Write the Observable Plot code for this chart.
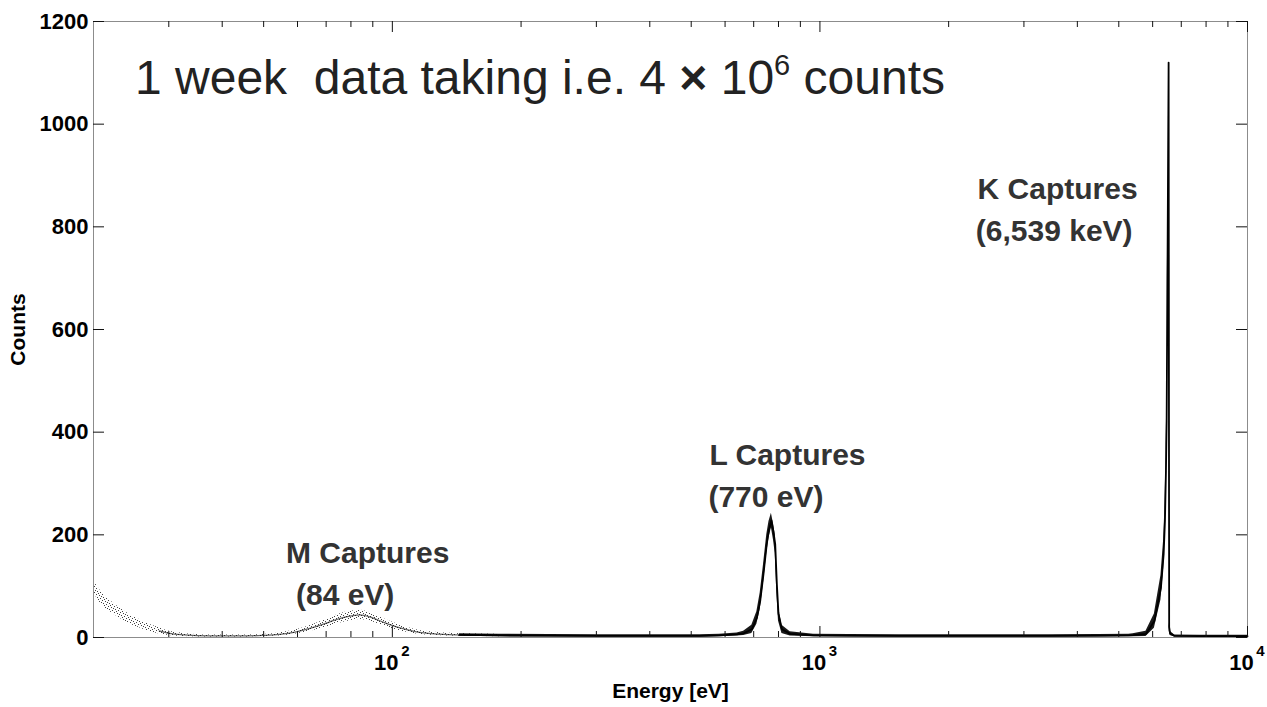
<!DOCTYPE html>
<html>
<head>
<meta charset="utf-8">
<script src="https://cdn.jsdelivr.net/npm/d3@7"></script>
<script src="https://cdn.jsdelivr.net/npm/@observablehq/plot@0.6"></script>
<style>
  html, body { margin: 0; padding: 0; background: #fff; }
  #chart svg { display: block; }
</style>
</head>
<body>
<div id="chart"></div>
<script>
// Electron-capture spectrum: bin energy (eV), typical counts per bin,
// and the half-width of the counting scatter around it.
const energy = [
  20.0, 20.4, 21.0, 21.8, 23.0, 24.3, 25.6, 27.0, 28.5, 30.1, 32.6, 37.3, 43.8,
  49.6, 54.4, 59.6, 65.0, 71.2, 75.2, 80.2, 84.0, 89.3, 95.8, 103.8, 113.8, 125.4,
  143.5, 178, 233, 305, 399, 523, 582, 640, 663, 693, 712, 725, 738, 751, 760,
  770, 779, 786, 793, 800, 815, 852, 966, 1172, 1532, 2003, 2620, 3426, 4482,
  5276, 5400, 5788, 6056, 6274, 6367, 6411, 6446, 6470, 6498, 6539, 6558, 6592,
  6755, 7727, 10000
];
const countMid = [
  100, 88, 74, 62, 48, 36, 27, 19, 13, 8, 5, 3, 3,
  4, 6, 11, 19, 30, 37, 42, 44, 39, 29, 19, 11, 7,
  5, 4, 3.5, 3, 3, 3, 4, 6, 8, 16, 38, 71, 124, 182, 210,
  228, 205, 182, 104, 46, 16, 7, 4, 3.5, 3, 3, 3, 3, 3.5,
  4, 4.5, 7, 32, 97, 163, 227, 325, 422, 700, 1120, 20, 8,
  3, 2.5, 2.5
];
const countSpread = [
  12, 12, 12, 11, 10, 9, 8, 7, 6, 4, 3, 2, 2,
  2, 3, 4, 6, 8, 9, 9, 9, 8, 7, 6, 4, 3,
  2.5, 2.5, 2.5, 2.5, 2.5, 2.5, 2.5, 3, 4, 8, 12, 16, 18, 18, 16,
  14, 16, 18, 18, 14, 8, 4, 2.5, 2.5, 2.5, 2.5, 2.5, 2.5, 2.5,
  2.5, 3, 5, 14, 24, 28, 28, 26, 24, 24, 0, 8, 4,
  2, 2, 2
];

// Axis ticks
const yTicks = [0, 200, 400, 600, 800, 1000, 1200];
const xDecades = [100, 1000, 10000];
const decadeExponents = ["2", "3", "4"];
const xMinorTicks = [30, 40, 50, 60, 70, 80, 90, 200, 300, 400, 500, 600, 700, 800, 900,
                     2000, 3000, 4000, 5000, 6000, 7000, 8000, 9000];

// Capture lines
const peakNames = ["M Captures", "L Captures", "K Captures"];
const peakEnergyLabels = ["(84 eV)", "(770 eV)", "(6,539 keV)"];
const peakEnergy = [84, 770, 6539];
const peakCount = [44, 228, 1120];

const spectrum = energy.map((e, i) => ({
  energy: e,
  mid: countMid[i],
  lo: Math.max(0, countMid[i] - countSpread[i]),
  hi: countMid[i] + countSpread[i]
}));
const sparse = spectrum.filter(d => d.energy <= 178);
const sparseCore = sparse.filter(d => d.energy >= 28.5);
const dense = spectrum.filter(d => d.energy >= 143.5);
const peaks = peakNames.map((name, i) => ({
  name, label: peakEnergyLabels[i], energy: peakEnergy[i], count: peakCount[i]
}));

const W = 1267, H = 707;
const mL = 93, mR = 20, mT = 21, mB = 70;
const frameW = W - mL - mR, frameH = H - mT - mB;
const font = "Liberation Sans, Arial, Helvetica, sans-serif";
const annColor = "#333";

const capLabel = (i, field, anchor, dx, dy) =>
  Plot.text([peaks[i]], {
    x: "energy", y: "count", text: field,
    textAnchor: anchor, lineAnchor: "bottom", dx, dy,
    fontSize: 30, fontWeight: "bold", fill: annColor
  });

const chart = Plot.plot({
  width: W, height: H,
  marginLeft: mL, marginRight: mR, marginTop: mT, marginBottom: mB,
  style: { fontFamily: font, background: "#fff", overflow: "visible" },
  x: { type: "log", domain: [20, 10000], axis: null },
  y: { domain: [0, 1200], axis: null },
  marks: [
    // sparse low-energy tail and M hump, stippled like scattered bins
    Plot.areaY(sparse, { x: "energy", y1: "lo", y2: "hi", fill: "url(#scatter)", curve: "monotone-x" }),
    Plot.line(sparseCore, { x: "energy", y: "mid", stroke: "#000", strokeOpacity: 0.6, strokeWidth: 1.3, curve: "monotone-x" }),
    // dense L and K lines
    Plot.areaY(dense, { x: "energy", y1: "lo", y2: "hi", fill: "#000", fillOpacity: 0.9 }),
    Plot.line(dense, { x: "energy", y: "mid", stroke: "#000", strokeWidth: 1.8 }),

    Plot.frame({ stroke: "#8c8c8c" }),

    // inward ticks, bottom and top
    Plot.ruleX(xDecades, { x: d => d, insetTop: frameH - 11, stroke: "#111" }),
    Plot.ruleX(xDecades, { x: d => d, insetBottom: frameH - 11, stroke: "#111" }),
    Plot.ruleX(xMinorTicks, { x: d => d, insetTop: frameH - 6, stroke: "#111" }),
    Plot.ruleX(xMinorTicks, { x: d => d, insetBottom: frameH - 6, stroke: "#111" }),
    // inward ticks, left and right
    Plot.ruleY(yTicks, { y: d => d, insetRight: frameW - 11, stroke: "#111" }),
    Plot.ruleY(yTicks, { y: d => d, insetLeft: frameW - 11, stroke: "#111" }),

    // y tick labels
    Plot.text(yTicks, {
      y: d => d, text: d => String(d), frameAnchor: "left", textAnchor: "end",
      dx: -5, fontSize: 22, fontWeight: "bold", fill: "#000"
    }),
    // x tick labels 10^n
    Plot.text(xDecades, {
      x: d => d, text: () => "10", frameAnchor: "bottom", lineAnchor: "bottom", textAnchor: "middle",
      dx: -6, dy: 32, fontSize: 22, fontWeight: "bold", fill: "#000"
    }),
    Plot.text(xDecades, {
      x: d => d, text: (d, i) => decadeExponents[i], frameAnchor: "bottom", lineAnchor: "bottom", textAnchor: "middle",
      dx: 13, dy: 18, fontSize: 15, fontWeight: "bold", fill: "#000"
    }),

    // axis titles
    Plot.text(["Energy [eV]"], {
      frameAnchor: "bottom", lineAnchor: "bottom", textAnchor: "middle", dy: 60,
      fontSize: 21, fontWeight: "bold", fill: "#000"
    }),
    Plot.text(["Counts"], {
      frameAnchor: "left", textAnchor: "middle", rotate: -90, dx: -75,
      fontSize: 21, fontWeight: "bold", fill: "#000"
    }),

    // capture line annotations
    capLabel(0, "name", "start", -74, -52),
    capLabel(0, "label", "start", -64, -10),
    capLabel(1, "name", "start", -62, -55),
    capLabel(1, "label", "start", -63, -13),
    capLabel(2, "name", "end", -31, 136),
    capLabel(2, "label", "end", -36, 178)
  ]
});

const svg = d3.select(chart);

// stipple used for the sparsely populated bins
const pat = svg.insert("defs", ":first-child").append("pattern")
  .attr("id", "scatter").attr("patternUnits", "userSpaceOnUse")
  .attr("width", 6).attr("height", 6);
[[0, 0], [3, 1], [1, 3], [4, 4], [5, 2], [2, 5]].forEach(([px, py]) =>
  pat.append("rect").attr("x", px).attr("y", py).attr("width", 1).attr("height", 1)
    .attr("fill", "#000").attr("fill-opacity", 0.75));

// headline with superscript exponent
const head = svg.append("text")
  .attr("x", 135).attr("y", 94)
  .attr("text-anchor", "start")
  .attr("font-family", font).attr("font-size", 48)
  .attr("fill", "#222")
  .style("white-space", "pre");
head.append("tspan").text("1 week  data taking i.e. 4 ");
head.append("tspan").attr("font-weight", "bold").text("\u00d7");
head.append("tspan").text(" 10");
head.append("tspan").attr("font-size", 29).attr("dy", -19).text("6");
head.append("tspan").attr("dy", 19).text(" counts");

document.getElementById("chart").appendChild(chart);
</script>
</body>
</html>
